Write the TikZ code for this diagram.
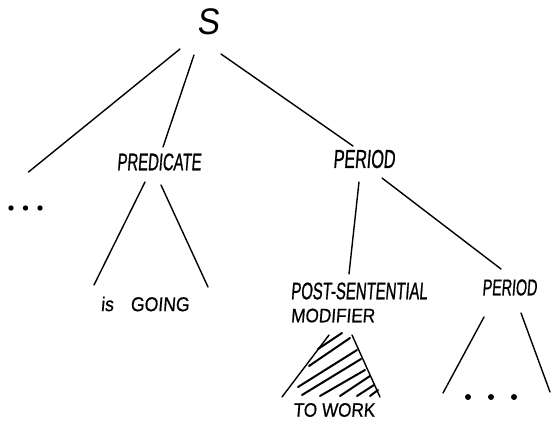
\documentclass[tikz,border=0pt]{standalone}
\usepackage{fontspec}
\usetikzlibrary{calc}
\newfontfamily\handA[FakeStretch=0.62,FakeSlant=0.08,FakeBold=0.8]{Liberation Sans}
\newfontfamily\handB[FakeStretch=0.88,FakeSlant=0.08,FakeBold=0.6]{Liberation Sans}
\newfontfamily\handS[FakeStretch=0.9,FakeSlant=0.1]{Liberation Sans}
\begin{document}
\begin{tikzpicture}[x=1pt,y=-1pt,
  lbl/.style={inner sep=0pt, font={\handA\fontsize{24}{23}\selectfont}},
  wlbl/.style={inner sep=0pt, font={\handB\fontsize{19.5}{23}\selectfont}},
  dotsbox/.style={inner sep=0pt, minimum height=6pt},
  edge/.style={line width=1.4pt, line cap=round},
  hatch/.style={line width=2pt, line cap=round}]
\useasboundingbox (0,0) rectangle (551,421);
\fill[white] (0,0) rectangle (551,421);
% nodes
\node[inner sep=0pt, font={\handS\fontsize{37}{40}\selectfont}] (S) at (208,22) {S};
\node[lbl] (pred) at (159,162) {PREDICATE};
\node[lbl, font={\handA\fontsize{26}{28}\selectfont}] (per1) at (364,159) {PERIOD};
\node[dotsbox, minimum width=36pt] (dotsL) at (25.5,208) {};
\node[wlbl, font={\handB\fontsize{20}{23}\selectfont}] (isg) at (145,304) {is\hspace{17pt}GOING};
\node[lbl, align=left] (psm) at (359,302.5) {POST-SENTENTIAL\\{\handB\fontsize{19.5}{23}\selectfont MODIFIER}};
\node[lbl, font={\handA\fontsize{23}{25}\selectfont}] (per2) at (509.5,287.5) {PERIOD};
\node[wlbl] (towork) at (334,410) {TO WORK};
\node[dotsbox, minimum width=52pt] (dotsR) at (491,397) {};
% dots
\foreach \dx in {-14.5,0,14.5} \fill ($(dotsL)+(\dx,0)$) circle (2.7pt);
\foreach \dx in {-23,0,23} \fill ($(dotsR)+(\dx,0)$) circle (3pt);
% connectors
\draw[edge] ($(S)+(-28,27)$) -- ($(dotsL)+(3,-36)$);
\draw[edge] ($(S)+(-14,33)$) -- ($(pred)+(4,-15)$);
\draw[edge] ($(S)+(13,32)$) -- ($(per1)+(-11,-13)$);
\draw[edge] ($(pred)+(-14,20)$) -- ($(isg)+(-51,-19)$);
\draw[edge] ($(pred)+(2,23)$) -- ($(isg)+(63,-17)$);
\draw[edge] ($(per1)+(-5,23)$) -- ($(psm)+(-10,-28.5)$);
\draw[edge] ($(per1)+(18,19)$) -- ($(per2)+(-8.5,-18.5)$);
\draw[edge] ($(per2)+(-25.5,29.5)$) -- ($(dotsR)+(-48,-4)$);
\draw[edge] ($(per2)+(11.5,25.5)$) -- ($(dotsR)+(59,-5)$);
\draw[edge] ($(psm)+(-30,32.5)$) -- ($(towork)+(-52,-13)$);
\draw[edge] ($(psm)+(-7,32.5)$) -- ($(towork)+(46,-13)$);
% hatching inside the triangle
\draw[hatch] (318,349) -- (342,333);
\draw[hatch] (309,366) -- (350,338);
\draw[hatch] (298,387) -- (357,350);
\draw[hatch] (302,395) -- (361,359);
\draw[hatch] (320,396) -- (365,370);
\draw[hatch] (340,396) -- (370,376);
\draw[hatch] (357,396) -- (374,385);
\draw[hatch] (370,396) -- (378,390);
\end{tikzpicture}
\end{document}
